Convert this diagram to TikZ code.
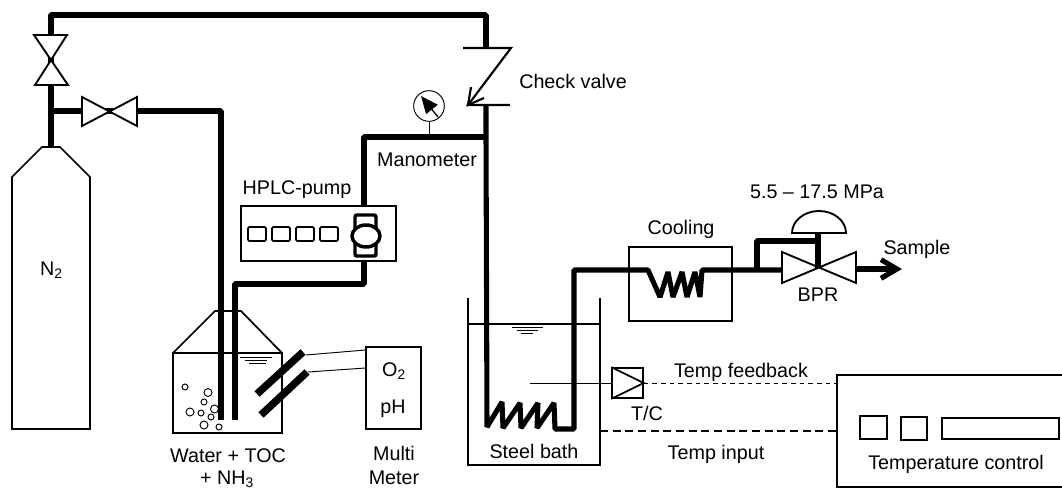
\documentclass[tikz,border=0pt]{standalone}
\usepackage{fontspec}
\setmainfont{Liberation Sans}
\usetikzlibrary{arrows.meta}
\tikzset{
  pipe/.style={line width=3.8pt, line join=bevel},
  thinline/.style={line width=1.3pt},
  wire/.style={line width=0.7pt},
  valve/.style={line width=1.4pt, fill=white, line join=miter},
  label/.style={inner sep=0pt, font=\fontsize{14.8}{17}\selectfont},
  box/.style={draw=black, line width=1.3pt, inner sep=0pt}
}
\begin{document}
\begin{tikzpicture}[x=0.75pt, y=-0.75pt]
        \useasboundingbox (0, 0) rectangle (1062, 491);

        % junctions of the pipes
        \coordinate (topleft) at (51, 15);
        \coordinate (topright) at (486, 15);
        \coordinate (tee) at (51, 111);
        \coordinate (neck) at (51, 147);
        \coordinate (feedturn) at (221, 111);
        \coordinate (feedend) at (221, 420);
        \coordinate (suckend) at (235, 420);
        \coordinate (suckturn) at (235, 284);
        \coordinate (suckcorner) at (364, 284);
        \coordinate (presscorner) at (364, 137);
        \coordinate (pressjoin) at (486, 137);
        \coordinate (checkin) at (486, 48);
        \coordinate (checkout) at (486, 105);
        \coordinate (bathcorner) at (574, 270);

        % N2 bottle
        \draw[thinline] (12, 429) -- (12, 177) -- (42, 147) -- (60, 147) -- (90, 177) -- (90, 429) -- cycle;
        \node[label] (n2) at (51.5, 270) {N\textsubscript{2}};

        % Gas lines
        \draw[pipe] (neck) -- (topleft) -- (topright) -- (checkin);
        \draw[pipe] (tee) -- (feedturn) -- (feedend);
        \draw[pipe] (suckend) -- (suckturn) -- (suckcorner) -- (presscorner) -- (pressjoin);
        \draw[pipe] (checkout) -- (pressjoin) -- (487, 427) -- (502, 402) -- (503, 428) -- (520, 403) -- (521, 428) -- (538, 403) -- (537, 428) -- (554, 403) -- (555, 429) -- (574, 429) -- (bathcorner) -- (648, 270) -- (660, 297) -- (668, 272) -- (673, 297) -- (682, 272) -- (687, 297) -- (695, 272) -- (700, 297) -- (702, 270) -- (782, 270);

        % Valves on the gas lines
        \draw[valve] (34, 35) -- (67, 35) -- (35, 85) -- (68, 85) -- cycle;
        \draw[valve] (82, 97) -- (82, 126) -- (137, 97) -- (137, 126) -- cycle;

        % Check valve
        \draw[line width=1.6pt] (463, 48) -- (511, 48) -- (468, 105) -- (510, 105);
        \draw[line width=1.6pt] (471, 87) -- (468, 105) -- (484, 98);
        \node[label, anchor=west] (checklabel) at (519, 81) {Check valve};

        % Manometer
        \node[circle, draw=black, wire, minimum size=23pt, inner sep=0pt] (mano) at (429, 106) {};
        \draw[wire] (mano.south) -- (429, 137);
        \draw[-{Triangle[length=13pt, width=11pt]}, line width=1pt] (438, 117) -- (421, 96);
        \node[label] (manolabel) at (427, 160) {Manometer};

        % HPLC pump
        \node[box, minimum width=116pt, minimum height=41pt, fill=white] (pump) at (318.5, 233.5) {};
        \node[label] (pumplabel) at (297, 190) {HPLC-pump};
        \foreach \x in {248, 272, 296, 320}
          \draw[line width=1.4pt, rounded corners=1pt] (\x, 227) rectangle (\x+18, 241);
        \draw[line width=2.6pt, rounded corners=1.5pt] (355, 215) rectangle (376, 256);
        \draw[line width=1pt, white] (360, 220) -- (371, 220);
        \draw[line width=1pt, white] (360, 251) -- (371, 251);
        \draw[line width=2.6pt, fill=white] (366, 236) ellipse (14 and 11);

        % Water vessel
        \draw[thinline] (173, 353) rectangle (282, 433);
        \draw[thinline] (173, 353) -- (215, 311) -- (241, 311) -- (282, 353);
        \draw[wire] (240, 357) -- (272, 357);
        \draw[wire] (245, 360) -- (267, 360);
        \draw[wire] (249, 363) -- (266, 363);
        \foreach \x/\y/\r in {185/387/3, 208/392.5/4, 204/402/3, 214.5/409/4, 190/412/4, 201/413/3, 211/417/3, 204/425/4, 219/427/3}
          \draw[wire] (\x, \y) circle (\r);
        \node[label] (water) at (228, 456) {Water + TOC};
        \node[label] (nh3) at (227, 479) {+ NH\textsubscript{3}};

        % Electrodes and meter
        \node[box, minimum width=41pt, minimum height=61.5pt] (meter) at (393.5, 388) {};
        \draw[line width=5.6pt] (257, 394) -- (303, 352);
        \draw[line width=5.6pt] (261, 415) -- (307, 372);
        \draw[wire] (306, 355) -- (meter.west |- 0, 350);
        \draw[wire] (308, 372) -- (meter.west |- 0, 368);
        \node[label] (o2) at (394, 371) {O\textsubscript{2}};
        \node[label] (ph) at (393, 409) {pH};
        \node[label] (multi) at (394, 453) {Multi};
        \node[label] (metre) at (394, 478) {Meter};

        % Steel bath
        \draw[thinline] (468, 298) -- (468, 465) -- (600, 465) -- (600, 298);
        \draw[thinline] (468, 324) -- (600, 324);
        \draw[wire] (512, 327) -- (543, 327);
        \draw[wire] (517, 330) -- (538, 330);
        \draw[wire] (521, 333) -- (533, 333);
        \node[label] (bath) at (534, 451) {Steel bath};

        % Thermocouple
        \node[box, minimum width=23pt, minimum height=22.5pt] (tc) at (627.5, 383) {};
        \draw[thinline] (tc.north west) -- (tc.east) -- (tc.south west);
        \draw[wire] (530, 383) -- (tc.west);
        \node[label] (tclabel) at (647, 413) {T/C};

        % Cooling
        \node[box, minimum width=77pt, minimum height=55.5pt] (cooler) at (680.5, 284) {};
        \node[label] (coolinglabel) at (681, 229) {Cooling};

        % Back pressure regulator
        \draw[valve] (782, 252) -- (782, 283) -- (856, 252) -- (856, 283) -- cycle;
        \draw[pipe] (757, 270) -- (757, 241) -- (818, 241);
        \draw[pipe] (818, 268) -- (818, 233);
        \draw[line width=1.4pt] (792, 233) arc[start angle=180, end angle=360, x radius=27, y radius=22] -- cycle;
        \node[label] (pressure) at (817, 192) {5.5 – 17.5 MPa};
        \node[label] (bpr) at (818, 295) {BPR};
        \node[label] (sample) at (917, 249) {Sample};
        \draw[-{Straight Barb[length=12pt, width=14pt]}, pipe] (856, 269) -- (902, 269);

        % Temperature control
        \node[box, minimum width=171pt, minimum height=84pt] (control) at (951, 431) {};
        \draw[thinline] (860, 416) rectangle (887, 439);
        \draw[thinline] (901, 417) rectangle (927, 440);
        \draw[thinline] (942, 418) rectangle (1059, 439);
        \node[label] (controllabel) at (956, 464) {Temperature control};
        \draw[wire, dash pattern=on 3.5pt off 3pt] (tc.east) -- (control.west |- tc.east);
        \draw[thinline, dash pattern=on 6pt off 3.5pt] (600, 431) -- (control.west |- 0, 431);
        \node[label] (feedback) at (741, 372) {Temp feedback};
        \node[label] (input) at (716, 454) {Temp input};
\end{tikzpicture}
\end{document}
